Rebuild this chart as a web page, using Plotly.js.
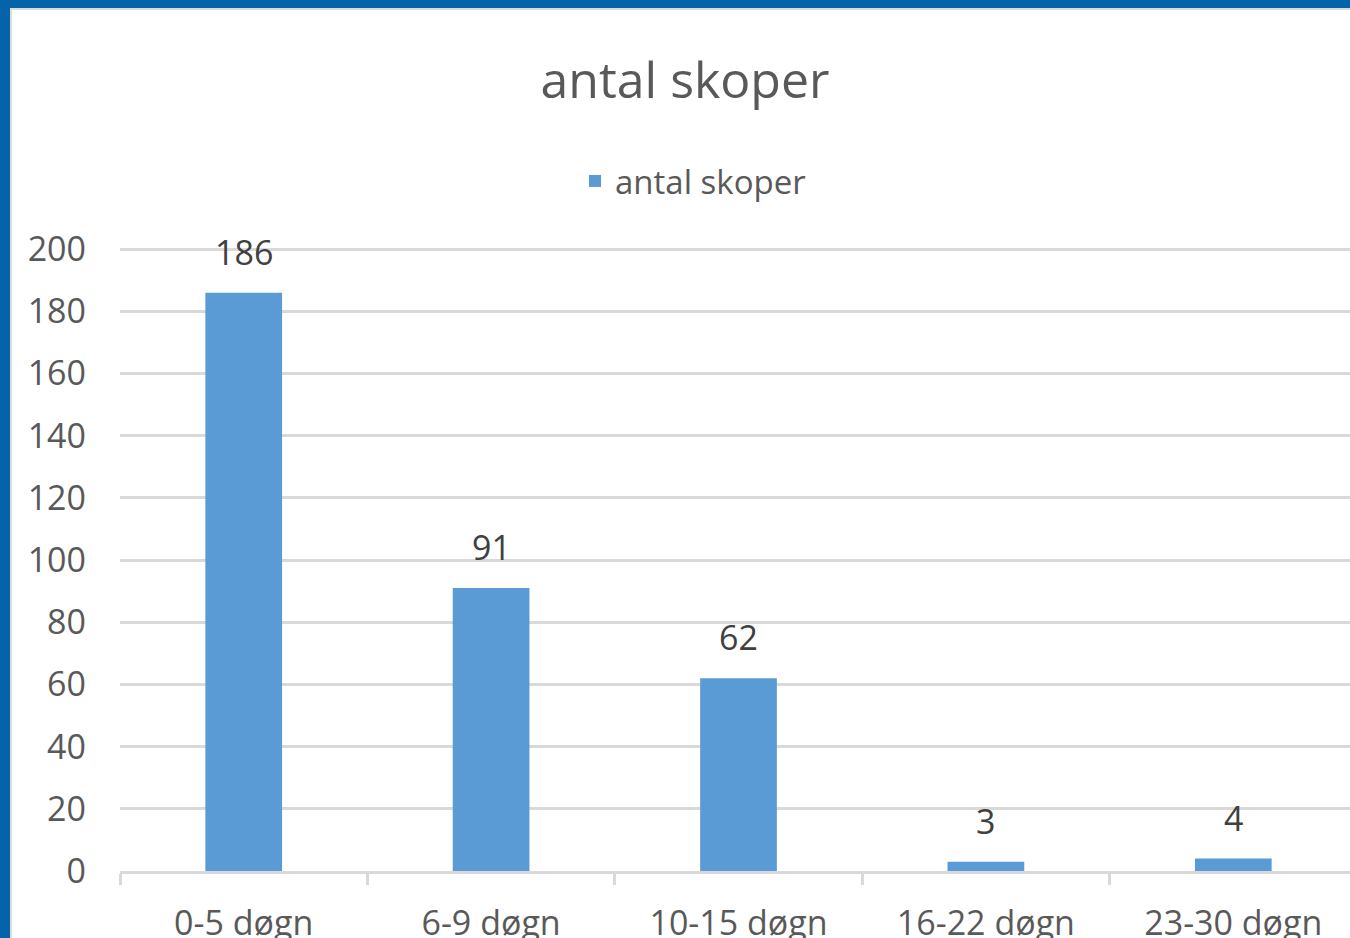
<!DOCTYPE html>
<html>
<head>
<meta charset="utf-8">
<script src="https://cdn.plot.ly/plotly-3.0.1.min.js"></script>
<style>
  html, body { margin: 0; padding: 0; overflow: hidden; background: #ffffff; width: 1350px; height: 938px; }
  #frame { position: absolute; left: 0; top: 0; width: 1400px; height: 1000px;
           border-left: 10px solid #0563A9; border-top: 8px solid #0563A9; box-sizing: border-box; }
  #inner { position: absolute; left: 0; top: 0; width: 1390px; height: 992px;
           border-left: 2px solid #dcdcdc; border-top: 2px solid #dcdcdc; box-sizing: border-box; }
  #chart { position: absolute; left: 0; top: 0; width: 1360px; height: 960px; }
</style>
</head>
<body>
<div id="frame"><div id="inner"><div id="chart"></div></div></div>
<script>
const categories = ["0-5 døgn", "6-9 døgn", "10-15 døgn", "16-22 døgn", "23-30 døgn"];
const values = [186, 91, 62, 3, 4];
const seriesName = "antal skoper";
const chartTitle = "antal skoper";
const yTicks = [0, 20, 40, 60, 80, 100, 120, 140, 160, 180, 200];

const FONT = "Open Sans, Noto Sans, sans-serif";

const trace = {
  type: "bar",
  x: categories,
  y: values,
  name: seriesName,
  marker: { color: "#5B9BD5" },
  hoverinfo: "x+y"
};

const annotations = categories.map((c, i) => ({
  x: c, y: values[i], xref: "x", yref: "y",
  text: String(values[i]),
  showarrow: false,
  yanchor: "middle",
  yshift: 41,
  font: { family: FONT, size: 34, color: "#404040" }
}));

const layout = {
  width: 1360,
  height: 960,
  paper_bgcolor: "#ffffff",
  plot_bgcolor: "#ffffff",
  margin: { l: 108, r: 14.5, t: 238, b: 99 },
  bargap: 0.69,
  title: {
    text: chartTitle,
    xref: "container", yref: "container",
    x: 673 / 1360, xanchor: "center",
    y: 1 - 70 / 960, yanchor: "middle",
    font: { family: FONT, size: 50, color: "#595959" }
  },
  showlegend: true,
  legend: {
    orientation: "h",
    xref: "container", yref: "container",
    x: 681 / 1360, xanchor: "center",
    y: 1 - 171 / 960, yanchor: "middle",
    font: { family: FONT, size: 33, color: "#595959" },
    bgcolor: "rgba(0,0,0,0)"
  },
  xaxis: {
    type: "category",
    range: [-0.5, 4.5],
    showgrid: false,
    showline: true,
    linecolor: "#d9d9d9",
    linewidth: 3,
    ticks: "outside",
    tickson: "boundaries",
    ticklen: 11,
    tickwidth: 3,
    tickcolor: "#d9d9d9",
    ticklabelstandoff: 20,
    tickfont: { family: FONT, size: 34, color: "#595959" },
    fixedrange: true
  },
  yaxis: {
    range: [0, 200.4],
    tickmode: "array",
    tickvals: yTicks,
    ticktext: yTicks.map(String),
    showgrid: true,
    gridcolor: "#d9d9d9",
    gridwidth: 3,
    zeroline: false,
    showline: false,
    ticks: "",
    ticklabelstandoff: 33,
    tickfont: { family: FONT, size: 34, color: "#595959" },
    fixedrange: true
  },
  annotations: annotations
};

Plotly.newPlot("chart", [trace], layout, { displayModeBar: false, staticPlot: false });
</script>
</body>
</html>
